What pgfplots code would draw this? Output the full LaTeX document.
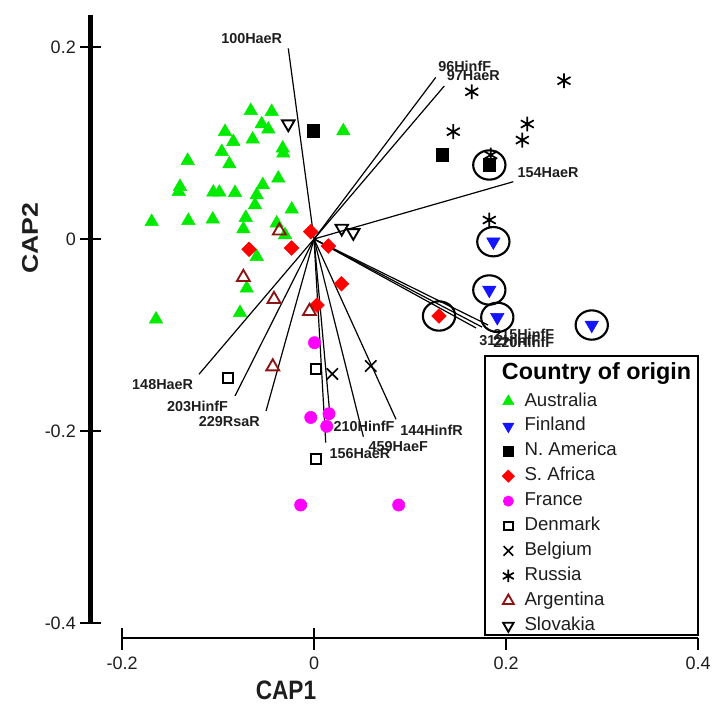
\documentclass[border=0pt]{standalone}
\usepackage{pgfplots}
\pgfplotsset{compat=1.18}
\usepackage{fontspec}
\setmainfont{Liberation Sans}
\definecolor{ausgreen}{RGB}{0,235,0}
\definecolor{finblue}{RGB}{20,20,255}
\definecolor{argred}{RGB}{140,20,20}
\definecolor{frmag}{RGB}{255,0,255}
\definecolor{txt}{RGB}{30,30,30}
\tikzset{
  lab/.style={font=\fontsize{10.8}{12}\selectfont\bfseries, text=txt, inner sep=0pt},
  ticklab/.style={font=\fontsize{13.5}{15}\selectfont, text=txt, inner sep=0pt},
}
\begin{document}
\begin{tikzpicture}
\begin{axis}[
  scale only axis, width=534.75pt, height=531.75pt,
  xmin=-0.3271, xmax=0.4156, ymin=-0.4896, ymax=0.2490,
  axis lines=none, clip=false,
  legend style={at={(axis cs:0.1960,-0.1601)}, anchor=north west, draw=none, fill=none,
    inner sep=0pt, outer sep=0pt, font=\fontsize{14}{16}\selectfont, text=txt,
    row sep=5.7pt, column sep=7.5pt,
    nodes={text height=10pt, text depth=3pt, inner sep=0pt}},
  legend cell align=left,
  pt/.style={only marks, legend image code/.code={\draw[mark repeat=2,mark phase=2,##1,every mark/.append style={scale=0.84}] plot coordinates {(0cm,0cm) (0.22cm,0cm) (0.44cm,0cm)};}},
  vec/.style={forget plot, black, line width=0.9pt, no marks},
]
\path (rel axis cs:0,0) rectangle (rel axis cs:1,1);
% legend box
\draw[line width=2.2pt, fill=white] (axis cs:0.1781,-0.1219) rectangle (axis cs:0.4,-0.4125);
\node[anchor=west, font=\fontsize{17.5}{19}\selectfont\bfseries, text=black, inner sep=0pt] at (axis cs:0.1955,-0.1396) {Country of origin};
% axes
\draw[line width=3.2pt] (axis cs:-0.2328,0.2333) -- (axis cs:-0.2328,-0.4);
\draw[line width=1.8pt] (axis cs:-0.2,-0.4156) -- (axis cs:0.4,-0.4156);
\draw[line width=0.8pt] (axis cs:-0.2438,0.2) -- (axis cs:-0.2219,0.2);
\draw[line width=0.8pt] (axis cs:-0.2438,0) -- (axis cs:-0.2219,0);
\draw[line width=0.8pt] (axis cs:-0.2438,-0.2) -- (axis cs:-0.2219,-0.2);
\draw[line width=0.8pt] (axis cs:-0.2438,-0.4) -- (axis cs:-0.2219,-0.4);
\draw[line width=0.8pt] (axis cs:-0.2,-0.4052) -- (axis cs:-0.2,-0.4281);
\draw[line width=0.8pt] (axis cs:0,-0.4052) -- (axis cs:0,-0.4281);
\draw[line width=0.8pt] (axis cs:0.2,-0.4156) -- (axis cs:0.2,-0.4281);
\draw[line width=0.8pt] (axis cs:0.4,-0.4156) -- (axis cs:0.4,-0.4281);
\node[ticklab, anchor=east] at (axis cs:-0.2479,0.2) {0.2};
\node[ticklab, anchor=east] at (axis cs:-0.2479,0) {0};
\node[ticklab, anchor=east] at (axis cs:-0.2479,-0.2) {-0.2};
\node[ticklab, anchor=east] at (axis cs:-0.2479,-0.4) {-0.4};
\node[ticklab] at (axis cs:-0.2,-0.4417) {-0.2};
\node[ticklab] at (axis cs:0,-0.4417) {0};
\node[ticklab] at (axis cs:0.2,-0.4417) {0.2};
\node[ticklab] at (axis cs:0.4,-0.4417) {0.4};
\node[font=\fontsize{20}{22}\selectfont\bfseries, text=txt, xscale=0.85] at (axis cs:-0.0292,-0.4698) {CAP1};
\node[font=\fontsize{20}{22}\selectfont\bfseries, text=txt, xscale=0.85, rotate=90] at (axis cs:-0.2958,0.001) {CAP2};
% vectors
\addplot[vec] coordinates {(0,0) (-0.0268,0.1986)};
\addplot[vec] coordinates {(0,0) (0.1268,0.1684)};
\addplot[vec] coordinates {(0,0) (0.1357,0.1594)};
\addplot[vec] coordinates {(0,0) (0.2076,0.0597)};
\addplot[vec] coordinates {(0,0) (-0.1198,-0.1409)};
\addplot[vec] coordinates {(0,0) (-0.0823,-0.1635)};
\addplot[vec] coordinates {(0,0) (-0.0500,-0.1792)};
\addplot[vec] coordinates {(0,0) (0.0122,-0.2120)};
\addplot[vec] coordinates {(0,0) (0.0167,-0.1851)};
\addplot[vec] coordinates {(0,0) (0.0514,-0.2059)};
\addplot[vec] coordinates {(0,0) (0.0854,-0.1878)};
\addplot[vec] coordinates {(0,0) (0.1688,-0.0927)};
\addplot[vec] coordinates {(0,0) (0.1750,-0.0917)};
\addplot[vec] coordinates {(0,0) (0.1813,-0.0896)};
\node[lab, anchor=center] at (axis cs:-0.0649,0.2091) {100HaeR};
\node[lab, anchor=west] at (axis cs:0.1292,0.1802) {96HinfF};
\node[lab, anchor=west] at (axis cs:0.1382,0.1698) {97HaeR};
\node[lab, anchor=west] at (axis cs:0.2118,0.0695) {154HaeR};
\node[lab, anchor=east] at (axis cs:-0.1257,-0.1521) {148HaeR};
\node[lab, anchor=east] at (axis cs:-0.0893,-0.1747) {203HinfF};
\node[lab, anchor=east] at (axis cs:-0.0563,-0.1903) {229RsaR};
\node[lab, anchor=west] at (axis cs:0.0201,-0.1955) {210HinfF};
\node[lab, anchor=west] at (axis cs:0.0896,-0.1990) {144HinfR};
\node[lab, anchor=west] at (axis cs:0.0566,-0.2164) {459HaeF};
\node[lab, anchor=west] at (axis cs:0.0159,-0.2232) {156HaeR};
\node[lab, anchor=west] at (axis cs:0.1865,-0.0990) {215HinfF};
\node[lab, anchor=west] at (axis cs:0.1719,-0.1052) {312HinfF};
\node[lab, anchor=west] at (axis cs:0.1865,-0.1073) {220HinfF};
% points
\addplot[pt, mark=triangle*, mark size=5.8pt, color=ausgreen] coordinates {
(-0.0659,0.1336) (-0.0441,0.1326) (-0.0545,0.1198) (-0.0476,0.1143) (-0.0927,0.1118)
(-0.0841,0.1014) (-0.0639,0.1039) (-0.0326,0.0945) (-0.0320,0.0893) (-0.0961,0.0909)
(-0.0882,0.0781) (-0.1316,0.0816) (-0.0372,0.0632) (-0.0534,0.0563) (-0.1396,0.0545)
(-0.1409,0.0493) (-0.1049,0.0486) (-0.0986,0.0486) (-0.0823,0.0482) (-0.0597,0.0458)
(-0.0615,0.0354) (-0.0232,0.0309) (-0.0711,0.0222) (-0.1691,0.0180) (-0.1309,0.0191)
(-0.1055,0.0205) (-0.0736,0.0104) (-0.0389,0.0164) (-0.0302,0.0042) (0.0305,0.1125)
(-0.0597,-0.0184) (-0.0701,-0.0514) (-0.0771,-0.0768) (-0.1646,-0.0836)};
\addlegendentry{Australia}
\addplot[pt, mark=triangle*, mark size=5.8pt, color=finblue, mark options={rotate=180}] coordinates {
(0.1868,-0.0028) (0.1826,-0.0531) (0.1909,-0.0816) (0.2893,-0.0896)};
\addlegendentry{Finland}
\addplot[pt, mark=square*, mark size=4.8pt, black] coordinates {
(-0.0007,0.1128) (0.1336,0.0875) (0.1826,0.0771)};
\addlegendentry{N. America}
\addplot[pt, mark=square*, mark size=3.9pt, red, mark options={rotate=45}] coordinates {
(-0.0034,0.0076) (-0.0234,-0.0094) (-0.0677,-0.0107) (0.0149,-0.0073) (0.0286,-0.0466)
(0.0031,-0.0688) (0.1302,-0.0802)};
\addlegendentry{S. Africa}
\addplot[pt, mark=*, mark size=4.6pt, frmag] coordinates {
(0.0005,-0.1080) (-0.0034,-0.1859) (0.0156,-0.1820) (0.0132,-0.1951) (-0.0139,-0.2771) (0.0882,-0.2771)};
\addlegendentry{France}
\addplot[pt, mark=square, mark size=3.8pt, black, line width=1.4pt] coordinates {
(-0.0899,-0.1451) (0.0018,-0.1354) (0.0018,-0.2295)};
\addlegendentry{Denmark}
\addplot[pt, mark=x, mark size=6pt, black, line width=1.2pt] coordinates {
(0.0191,-0.1406) (0.0591,-0.1323)};
\addlegendentry{Belgium}
\addplot[pt, mark=asterisk, mark size=5.6pt, black, line width=1.3pt] coordinates {
(0.1643,0.1534) (0.2604,0.1649) (0.1451,0.1118) (0.2222,0.1198) (0.2170,0.1031)
(0.1841,0.0875) (0.1826,0.0198)};
\addlegendentry{Russia}
\addplot[pt, mark=triangle, mark size=5.6pt, argred, line width=1.4pt] coordinates {
(-0.0361,0.0086) (-0.0736,-0.0399) (-0.0417,-0.0628) (-0.0047,-0.0753) (-0.0430,-0.1330)};
\addlegendentry{Argentina}
\addplot[pt, mark=triangle, mark size=5.4pt, black, line width=1.4pt, mark options={rotate=180}] coordinates {
(-0.0268,0.1198) (0.0289,0.0111) (0.0409,0.0066)};
\addlegendentry{Slovakia}
% circles around selected samples
\addplot[only marks, forget plot, mark=o, mark size=11pt, black, line width=1.6pt, mark options={xscale=1.1}] coordinates {
(0.1826,0.0771) (0.1868,-0.0028) (0.1826,-0.0531) (0.1909,-0.0816) (0.2893,-0.0896) (0.1302,-0.0802)};
\end{axis}
\end{tikzpicture}
\end{document}
